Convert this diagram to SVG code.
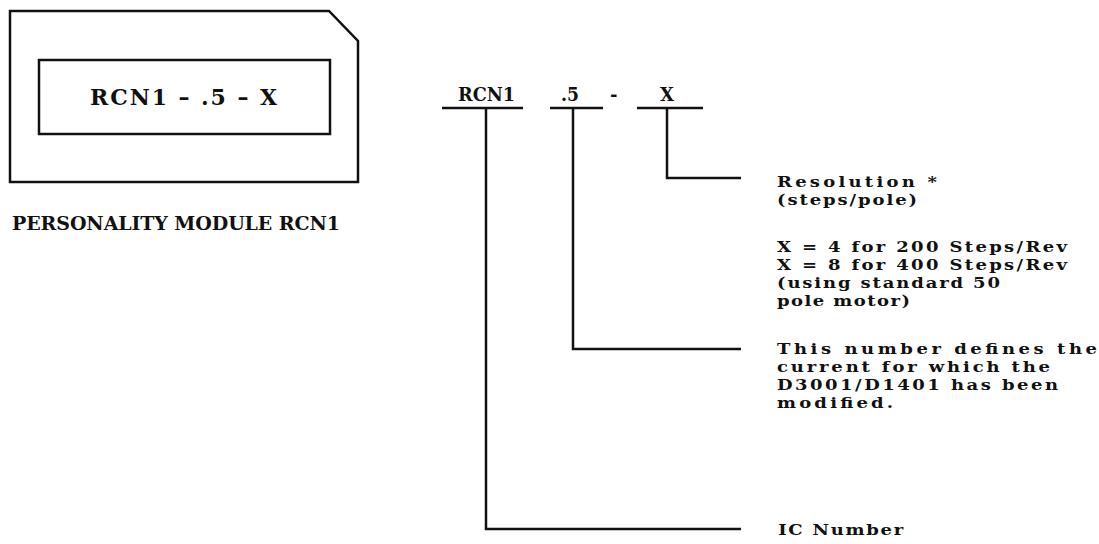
<svg xmlns="http://www.w3.org/2000/svg" width="1099" height="544" viewBox="0 0 1099 544">
<style>
text { font-family: "DejaVu Serif", "Liberation Serif", serif; font-weight: bold; fill: #111; }
.t { font-size: 15px; }
.s { fill: none; stroke: #111; stroke-width: 2.5; stroke-linejoin: miter; }
</style>
<rect width="1099" height="544" fill="#fff"/>
<g id="module">
  <path class="s" d="M10,11 H329 L358,41 V182 H10 Z"/>
  <rect class="s" x="39" y="60" width="291" height="74"/>
  <text x="90" y="105" font-size="22" textLength="187" lengthAdjust="spacing">RCN1 – .5 – X</text>
</g>
<g id="module-label">
  <text x="12" y="230" font-size="19" textLength="328" lengthAdjust="spacing">PERSONALITY MODULE RCN1</text>
</g>
<g id="code">
  <text x="458" y="101" font-size="18" textLength="57" lengthAdjust="spacingAndGlyphs">RCN1</text>
  <text x="561" y="101" font-size="18" textLength="18" lengthAdjust="spacingAndGlyphs">.5</text>
  <text x="610" y="101" font-size="18">-</text>
  <text x="660" y="101" font-size="18">X</text>
</g>
<g id="connectors">
  <line class="s" x1="442" y1="108" x2="523" y2="108"/>
  <line class="s" x1="550" y1="108" x2="603" y2="108"/>
  <line class="s" x1="637" y1="108" x2="703" y2="108"/>
  <polyline class="s" points="667,108 667,178 741,178"/>
  <polyline class="s" points="573,108 573,349 741,349"/>
  <polyline class="s" points="486,108 486,529 741,529"/>
</g>
<g transform="matrix(1.2,0,0,1,-155.4,0)">
<g id="resolution">
  <text class="t" x="777" y="187"><tspan x="777" textLength="133.3" lengthAdjust="spacing">Resolution *</tspan><tspan x="777" dy="18" textLength="116.7" lengthAdjust="spacing">(steps/pole)</tspan></text>
  <text class="t" x="777" y="252"><tspan x="777" textLength="241.7" lengthAdjust="spacing">X = 4 for 200 Steps/Rev</tspan><tspan x="777" dy="18" textLength="241.7" lengthAdjust="spacing">X = 8 for 400 Steps/Rev</tspan><tspan x="777" dy="18" textLength="185.8" lengthAdjust="spacing">(using standard 50</tspan><tspan x="777" dy="18" textLength="110.8" lengthAdjust="spacing">pole motor)</tspan></text>
</g>
<g id="current">
  <text class="t" x="777" y="354"><tspan x="777" textLength="266.7" lengthAdjust="spacing">This number defines the</tspan><tspan x="777" dy="18" textLength="227.5" lengthAdjust="spacing">current for which the</tspan><tspan x="777" dy="18" textLength="234.2" lengthAdjust="spacing">D3001/D1401 has been</tspan><tspan x="777" dy="18" textLength="96.7" lengthAdjust="spacing">modified.</tspan></text>
</g>
<g id="ic-number">
  <text x="778" y="535" class="t" textLength="104.2" lengthAdjust="spacing">IC Number</text>
</g>
</g>
</svg>
